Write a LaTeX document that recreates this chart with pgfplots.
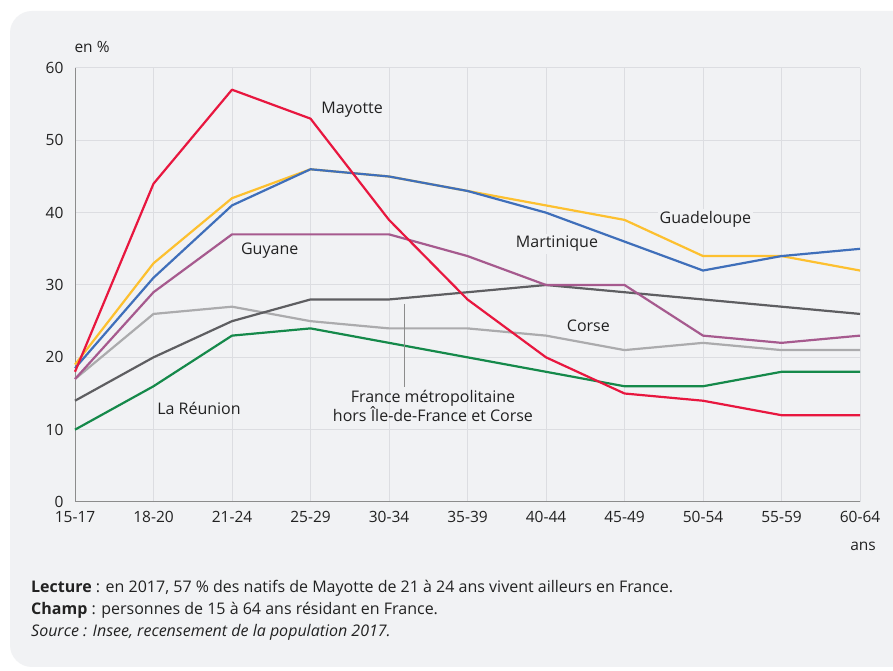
\documentclass[border=0pt]{standalone}
\usepackage{pgfplots}
\pgfplotsset{compat=1.18}
\usepackage{fontspec}
\setmainfont{Open Sans}
\definecolor{bgc}{HTML}{F1F2F4}
\definecolor{gridc}{HTML}{DCDDE1}
\definecolor{axc}{HTML}{8C8C8C}
\definecolor{cmay}{HTML}{E8173F}
\definecolor{cgua}{HTML}{FDC02F}
\definecolor{cmar}{HTML}{3F6FBA}
\definecolor{cguy}{HTML}{A65A8E}
\definecolor{cfra}{HTML}{5E5E61}
\definecolor{ccor}{HTML}{ABABAD}
\definecolor{creu}{HTML}{15894A}
\definecolor{txt}{HTML}{222222}
\begin{document}
\begin{tikzpicture}[x=1pt,y=1pt]
\useasboundingbox (0,0) rectangle (893,671);
\fill[white] (0,0) rectangle (893,671);
\fill[bgc, rounded corners=22pt] (10,4) rectangle (930,660);
\node[anchor=base west, font=\fontsize{15.5}{18}\selectfont, text=txt] at (71,618) {en \%};
\node[anchor=base, font=\fontsize{15.5}{18}\selectfont, text=txt] at (863,120) {ans};
\begin{axis}[
  at={(75pt,169pt)}, anchor=south west, scale only axis,
  width=785pt, height=434pt,
  xmin=0, xmax=10, ymin=0, ymax=60,
  axis x line*=bottom, axis y line*=left,
  axis line style={draw=axc, line width=1pt},
  xtick={0,...,10},
  xticklabels={15-17,18-20,21-24,25-29,30-34,35-39,40-44,45-49,50-54,55-59,60-64},
  ytick={0,10,...,60},
  major tick length=0pt,
  grid=major,
  major grid style={draw=gridc, line width=1pt},
  tick label style={font=\fontsize{15.5}{18}\selectfont, text=txt},
  /pgf/number format/assume math mode=true,
  xticklabel style={yshift=-6pt},
  yticklabel style={xshift=-8pt},
  clip=false,
  every axis plot/.append style={line width=2.2pt, mark=none, line join=round},
]
\addplot[ccor] coordinates {(0,17)(1,26)(2,27)(3,25)(4,24)(5,24)(6,23)(7,21)(8,22)(9,21)(10,21)};
\addplot[cfra] coordinates {(0,14)(1,20)(2,25)(3,28)(4,28)(5,29)(6,30)(7,29)(8,28)(9,27)(10,26)};
\addplot[creu] coordinates {(0,10)(1,16)(2,23)(3,24)(4,22)(5,20)(6,18)(7,16)(8,16)(9,18)(10,18)};
\addplot[cguy] coordinates {(0,17)(1,29)(2,37)(3,37)(4,37)(5,34)(6,30)(7,30)(8,23)(9,22)(10,23)};
\addplot[cgua] coordinates {(0,19)(1,33)(2,42)(3,46)(4,45)(5,43)(6,41)(7,39)(8,34)(9,34)(10,32)};
\addplot[cmar] coordinates {(0,18.5)(1,31)(2,41)(3,46)(4,45)(5,43)(6,40)(7,36)(8,32)(9,34)(10,35)};
\addplot[cmay] coordinates {(0,18)(1,44)(2,57)(3,53)(4,39)(5,28)(6,20)(7,15)(8,14)(9,12)(10,12)};
\draw[axc, line width=1pt] (axis cs:4.2,27.4) -- (axis cs:4.2,15.9);
\begin{scope}[every node/.style={font=\fontsize{16}{19}\selectfont, text=txt}]
\node at (axis cs:3.53,54.2) {Mayotte};
\node[fill=bgc, inner sep=2pt] at (axis cs:8.03,39.1) {Guadeloupe};
\node[fill=bgc, inner sep=2pt] at (axis cs:6.14,35.7) {Martinique};
\node at (axis cs:2.48,34.8) {Guyane};
\node at (axis cs:6.54,24.3) {Corse};
\node at (axis cs:1.58,13.0) {La Réunion};
\node[align=center, inner sep=1pt] at (axis cs:4.56,13.3) {France métropolitaine\\hors Île-de-France et Corse};
\end{scope}
\end{axis}
\begin{scope}[every node/.style={anchor=base west, inner sep=0pt, text=txt, font=\fontsize{16}{19}\selectfont}]
\node at (31,78) {\textbf{Lecture} : en 2017, 57 \% des natifs de Mayotte de 21 à 24 ans vivent ailleurs en France.};
\node at (31,56) {\textbf{Champ} : personnes de 15 à 64 ans résidant en France.};
\node at (31,34) {\textit{Source : Insee, recensement de la population 2017.}};
\end{scope}
\end{tikzpicture}
\end{document}
